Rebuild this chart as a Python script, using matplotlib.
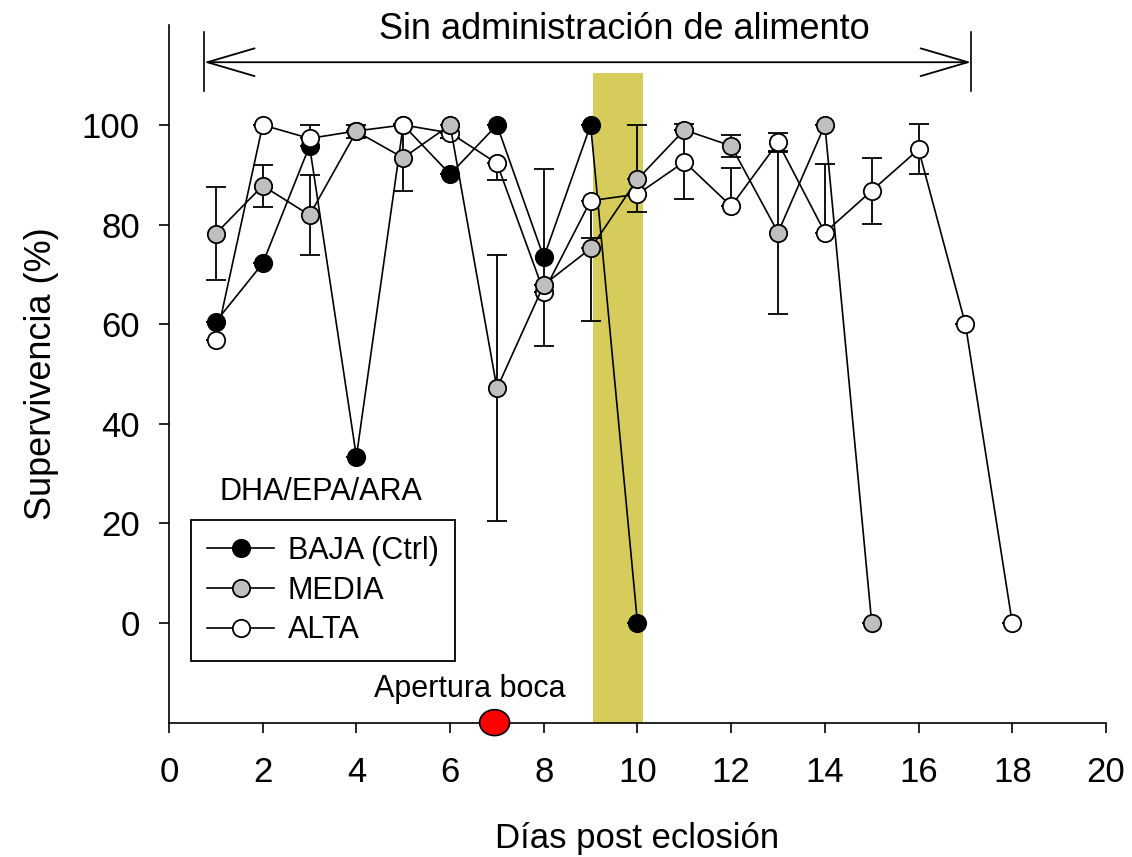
import numpy as np
import matplotlib
matplotlib.use('Agg')
import matplotlib.pyplot as plt
from matplotlib.patches import Ellipse

plt.rcParams['font.family'] = ['Liberation Sans', 'DejaVu Sans']

# survival (%) per day post hatch
dias_baja = [1, 2, 3, 4, 5, 6, 7, 8, 9, 10]
baja = [60.5, 72.2, 95.8, 33.4, 100, 90.1, 100, 73.4, 100, 0]
baja_lo = [0, 0, 0, 0, 0, 0, 0, 17.7, 0, 0]
baja_hi = [0, 0, 0, 0, 0, 0, 0, 17.7, 0, 0]

dias_media = [1, 2, 3, 4, 5, 6, 7, 8, 9, 10, 11, 12, 13, 14, 15]
media = [78.2, 87.8, 81.9, 98.7, 93.4, 100, 47.1, 67.9, 75.2, 89.1, 99.0, 95.8, 78.4, 100, 0]
media_lo = [9.4, 4.2, 8.0, 1.3, 6.7, 2.7, 26.7, 0, 14.6, 0, 0, 2.2, 16.4, 0, 0]
media_hi = [9.4, 4.2, 8.0, 1.3, 6.7, 0, 26.7, 0, 0, 10.9, 0, 2.2, 16.4, 0, 0]

dias_alta = [1, 2, 3, 4, 5, 6, 7, 8, 9, 10, 11, 12, 13, 14, 15, 16, 17, 18]
alta = [56.8, 100, 97.3, 98.8, 100, 98.4, 92.3, 66.5, 84.8, 86.1, 92.6, 83.7, 96.5, 78.4, 86.8, 95.1, 60.0, 0]
alta_lo = [0, 0, 0, 0, 0, 1.1, 3.3, 0, 7.4, 3.5, 7.5, 0, 1.9, 0, 6.6, 5.0, 0, 0]
alta_hi = [0, 0, 2.7, 0, 0, 0, 0, 0, 0, 0, 7.5, 7.7, 1.9, 13.7, 6.6, 5.0, 0, 0]

# annotations
banda = [9.05, 10.12]      # shaded band (days)
banda_top = 110.4
flecha = [0.75, 17.12]     # "sin alimento" arrow span
apertura_dia = 6.95

fig = plt.figure(figsize=(11.32, 8.57), dpi=100)
ax = fig.add_axes([0.1493, 0.1568, 0.8277, 0.8136])

ax.fill_between(banda, -20, banda_top, color='#d5cc5b', lw=0, zorder=1)

series = [
    (dias_baja, baja, baja_lo, baja_hi, 'black', 'BAJA (Ctrl)'),
    (dias_alta, alta, alta_lo, alta_hi, 'white', 'ALTA'),
    (dias_media, media, media_lo, media_hi, '#bfbfbf', 'MEDIA'),
]
handles = {}
for i, (d, v, lo, hi, fc, lab) in enumerate(series):
    ax.errorbar(d, v, yerr=[lo, hi], fmt='none', ecolor='black', elinewidth=1.3,
                capsize=7, capthick=1.3, zorder=2 + i)
    h, = ax.plot(d, v, '-o', color='black', lw=1.2, mfc=fc, mec='black',
                 mew=1.3, ms=12.5, zorder=5 + i, label=lab)
    handles[lab] = h

# arrow on top
ax.annotate('', xy=(flecha[0], 112.6), xytext=(flecha[1], 112.6),
            arrowprops=dict(arrowstyle='<->,head_length=1.7,head_width=0.5',
                            color='black', lw=1.3, mutation_scale=20,
                            shrinkA=0, shrinkB=0))
for xf in flecha:
    ax.plot([xf, xf], [106.8, 118.7], color='black', lw=1.2)
ax.text(9.71, 119.2, 'Sin administración de alimento', ha='center',
        va='center', fontsize=26)

# mouth opening marker
ax.text(6.42, -13.2, 'Apertura boca', ha='center', va='center', fontsize=22)
ax.add_patch(Ellipse((apertura_dia, -20), 0.64, 5.2, facecolor='red',
                     edgecolor='black', lw=1.2, clip_on=False, zorder=10))

ax.text(3.24, 26.3, 'DHA/EPA/ARA', ha='center', va='center', fontsize=22)
leg = ax.legend([handles['BAJA (Ctrl)'], handles['MEDIA'], handles['ALTA']],
                ['BAJA (Ctrl)', 'MEDIA', 'ALTA'], loc='upper left',
                bbox_to_anchor=(0.0235, 0.2907), fontsize=22, frameon=True,
                fancybox=False, edgecolor='black', framealpha=1,
                handlelength=2.2, handletextpad=0.45, labelspacing=0.32,
                borderpad=0.52, borderaxespad=0)
leg.get_frame().set_linewidth(1.3)

ax.set_xlim(0, 20)
ax.set_ylim(-20, 120)
ax.set_xticks(np.arange(0, 21, 2))
ax.set_yticks(np.arange(0, 101, 20))
ax.spines['top'].set_visible(False)
ax.spines['right'].set_visible(False)
ax.spines['left'].set_linewidth(1.2)
ax.spines['bottom'].set_linewidth(1.2)
ax.tick_params(direction='out', length=7, width=1.2, labelsize=25)
ax.tick_params(axis='y', pad=14)
ax.tick_params(axis='x', pad=17)
ax.set_xlabel('Días post eclosión', fontsize=25, labelpad=24)
ax.set_ylabel('Supervivencia (%)', fontsize=26, labelpad=16)

plt.savefig('out.png', dpi=100)
